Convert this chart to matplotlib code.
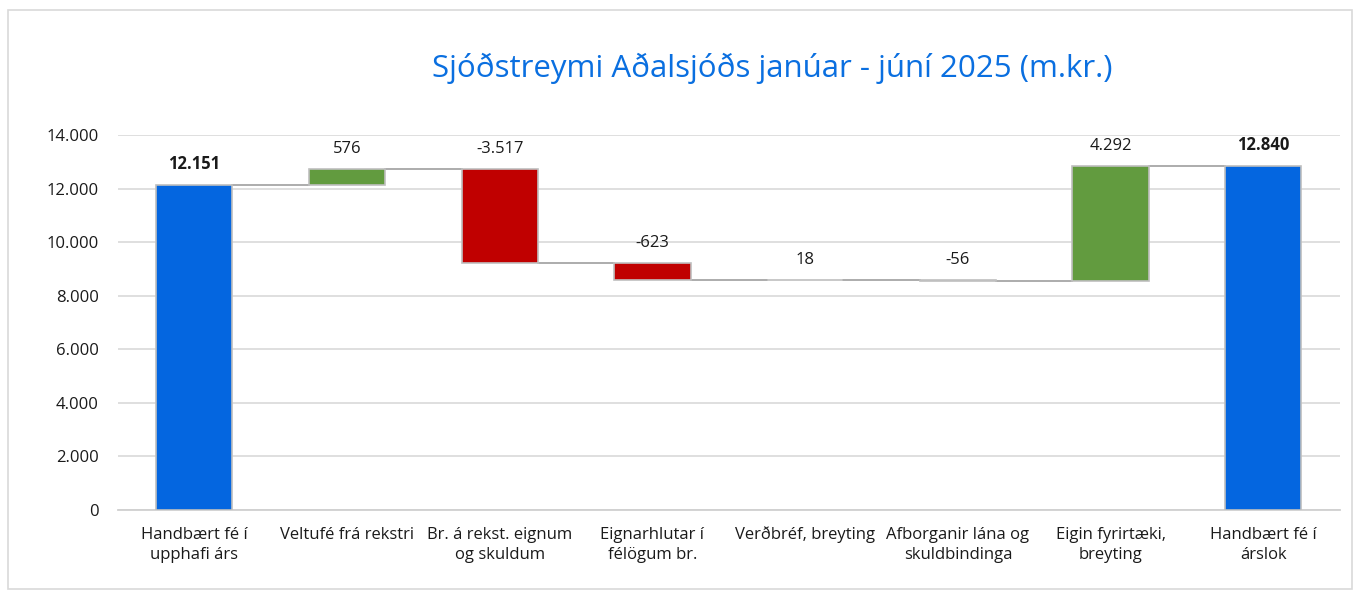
import matplotlib
matplotlib.use("Agg")
import matplotlib.pyplot as plt
from matplotlib.patches import Rectangle
from matplotlib.ticker import FuncFormatter

# ── Data ─────────────────────────────────────────────────────────────────────
categories = [
    "Handbært fé í\nupphafi árs",
    "Veltufé frá rekstri",
    "Br. á rekst. eignum\nog skuldum",
    "Eignarhlutar í\nfélögum br.",
    "Verðbréf, breyting",
    "Afborganir lána og\nskuldbindinga",
    "Eigin fyrirtæki,\nbreyting",
    "Handbært fé í\nárslok",
]
start_value = 12151
changes = [576, -3517, -623, 18, -56, 4292]
end_value = 12840
yticks = [0, 2000, 4000, 6000, 8000, 10000, 12000, 14000]

BLUE = "#0466E0"
GREEN = "#629B3F"
RED = "#C00000"
EDGE = "#BFBFBF"

plt.rcParams["font.family"] = ["Open Sans", "DejaVu Sans"]

fig = plt.figure(figsize=(13.62, 5.93), dpi=100)
ax = fig.add_axes([0.0866, 0.14, 0.897, 0.632])

# Build waterfall segments: (bottom, height, colour, label, bold)
bars = [(0, start_value, BLUE, start_value, True)]
running = start_value
for d in changes:
    lo = min(running, running + d)
    bars.append((lo, abs(d), GREEN if d >= 0 else RED, d, False))
    running += d
bars.append((0, end_value, BLUE, end_value, True))

width = 0.5
x = list(range(len(categories)))
for i, (bottom, h, col, lab, bold) in enumerate(bars):
    ax.bar(i, h, bottom=bottom, width=width, color=col, edgecolor=EDGE,
           linewidth=1.2, zorder=3)
    txt = f"{lab:,}".replace(",", ".")
    ax.text(i, bottom + h + 450, txt, ha="center", va="bottom",
            fontsize=12, fontweight="bold" if bold else "normal",
            color="#1a1a1a", zorder=4)

# connectors
levels = [start_value]
r = start_value
for d in changes:
    r += d
    levels.append(r)
for i, lvl in enumerate(levels):
    ax.plot([i + width / 2, i + 1 - width / 2], [lvl, lvl], color="#A6A6A6",
            linewidth=1.3, zorder=2)

ax.set_xlim(-0.5, len(categories) - 0.5)
ax.set_ylim(0, 14000)
ax.set_yticks(yticks)
ax.yaxis.set_major_formatter(FuncFormatter(lambda v, p: f"{int(v):,}".replace(",", ".")))
ax.set_xticks(x)
ax.set_xticklabels(categories, fontsize=12, color="#1a1a1a", linespacing=1.4)
ax.tick_params(axis="y", labelsize=12, colors="#1a1a1a", length=0, pad=14)
ax.tick_params(axis="x", length=0, pad=12)
ax.grid(axis="y", color="#D9D9D9", linewidth=1.2, zorder=0)
for s in ["top", "right", "left"]:
    ax.spines[s].set_visible(False)
ax.spines["bottom"].set_color("#D0D0D0")
ax.spines["bottom"].set_linewidth(1.3)

fig.text(0.567, 0.885, "Sjóðstreymi Aðalsjóðs janúar - júní 2025 (m.kr.)",
         ha="center", va="center", fontsize=22.5, color="#0A6FE0")

# outer frame
fig.patches.append(Rectangle((0.006, 0.006), 0.987, 0.977, transform=fig.transFigure,
                             fill=False, edgecolor="#D9D9D9", linewidth=1.2))

fig.savefig("out.png", dpi=100)
